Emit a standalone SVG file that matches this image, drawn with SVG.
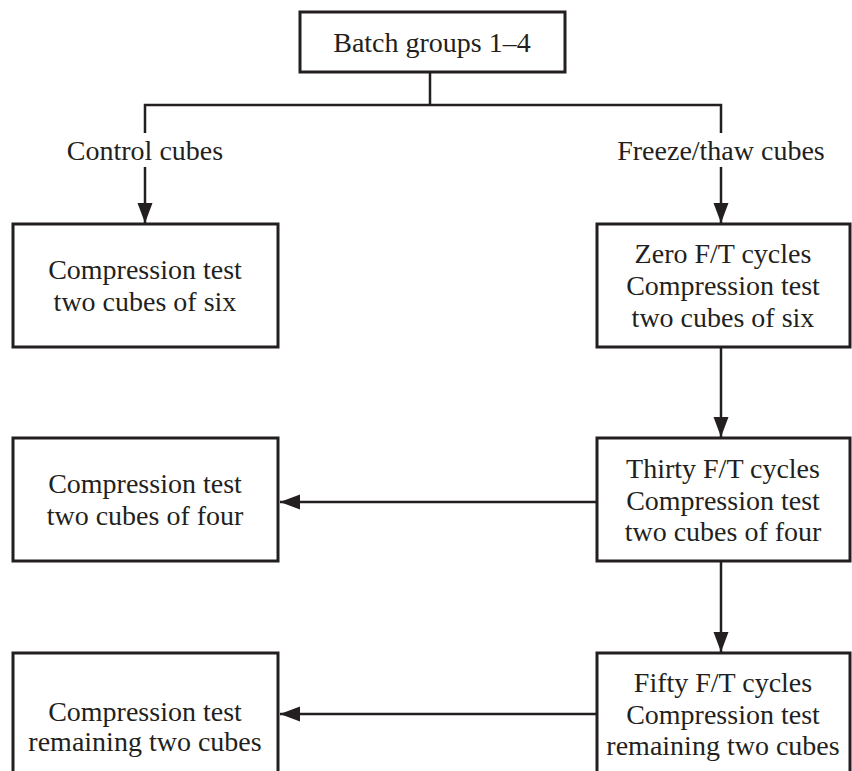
<svg xmlns="http://www.w3.org/2000/svg" width="852" height="771" viewBox="0 0 852 771">
  <defs>
    <marker id="arrow" markerUnits="userSpaceOnUse" markerWidth="20" markerHeight="16" refX="20" refY="7.5" orient="auto">
      <path d="M0,0 L20,7.5 L0,15 z" fill="#231f20"/>
    </marker>
    <style>
      .box { fill: #ffffff; stroke: #231f20; stroke-width: 3; }
      .t { font-family: "Liberation Serif", "Times New Roman", serif; font-size: 28px; fill: #231f20; text-anchor: middle; }
      .ln { fill: none; stroke: #231f20; stroke-width: 2.5; }
      .arr { fill: none; stroke: #231f20; stroke-width: 2.5; marker-end: url(#arrow); }
    </style>
  </defs>
  <rect width="852" height="771" fill="#ffffff"/>

  <g id="connectors">
    <path class="ln" d="M430,72 V105 M145,133 V105 H721 V133"/>
    <line class="arr" x1="145" y1="167" x2="145" y2="223"/>
    <line class="arr" x1="721" y1="167" x2="721" y2="223"/>
    <line class="arr" x1="721" y1="347" x2="721" y2="437"/>
    <line class="arr" x1="597" y1="502" x2="280" y2="502"/>
    <line class="arr" x1="721" y1="561" x2="721" y2="652"/>
    <line class="arr" x1="597" y1="714" x2="280" y2="714"/>
  </g>

  <g id="labels">
    <text class="t" x="145" y="160">Control cubes</text>
    <text class="t" x="721" y="160">Freeze/thaw cubes</text>
  </g>

  <g id="batch">
    <rect class="box" x="300" y="12" width="265" height="60"/>
    <text class="t" x="432" y="52">Batch groups 1–4</text>
  </g>

  <g id="control-test">
    <rect class="box" x="13" y="224" width="265" height="123"/>
    <text class="t" x="145" y="279">Compression test</text>
    <text class="t" x="145" y="311">two cubes of six</text>
  </g>

  <g id="zero-cycles">
    <rect class="box" x="597" y="224" width="253" height="123"/>
    <text class="t" x="723" y="263">Zero F/T cycles</text>
    <text class="t" x="723" y="295">Compression test</text>
    <text class="t" x="723" y="327">two cubes of six</text>
  </g>

  <g id="thirty-cycles">
    <rect class="box" x="597" y="438" width="253" height="123"/>
    <text class="t" x="723" y="478">Thirty F/T cycles</text>
    <text class="t" x="723" y="510">Compression test</text>
    <text class="t" x="723" y="541">two cubes of four</text>
  </g>

  <g id="thirty-test">
    <rect class="box" x="13" y="438" width="265" height="123"/>
    <text class="t" x="145" y="493">Compression test</text>
    <text class="t" x="145" y="525">two cubes of four</text>
  </g>

  <g id="fifty-cycles">
    <rect class="box" x="597" y="653" width="253" height="130"/>
    <text class="t" x="723" y="692">Fifty F/T cycles</text>
    <text class="t" x="723" y="724">Compression test</text>
    <text class="t" x="723" y="755">remaining two cubes</text>
  </g>

  <g id="fifty-test">
    <rect class="box" x="13" y="653" width="265" height="130"/>
    <text class="t" x="145" y="721">Compression test</text>
    <text class="t" x="145" y="751">remaining two cubes</text>
  </g>
</svg>
